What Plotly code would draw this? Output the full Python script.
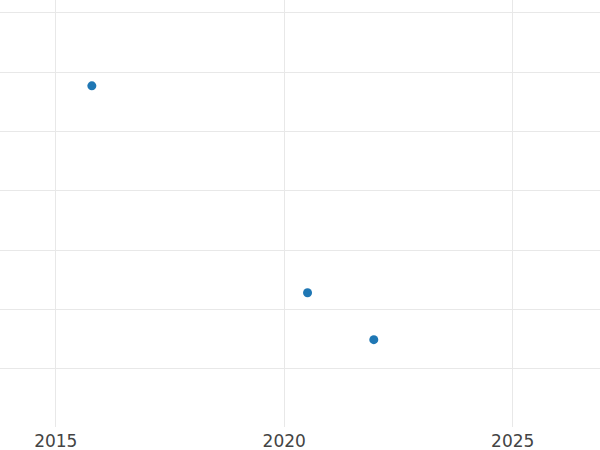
import plotly.graph_objects as go

years = [2015.79, 2020.51, 2021.96]
values = [47.7, 12.8, 4.9]
x_ticks = [2015, 2020, 2025]

fig = go.Figure()
fig.add_trace(
    go.Scatter(
        x=years,
        y=values,
        mode="markers",
        marker=dict(color="#1f77b4", size=9),
        showlegend=False,
    )
)

fig.update_layout(
    width=600,
    height=450,
    margin=dict(l=0, r=0, t=0, b=23),
    paper_bgcolor="white",
    plot_bgcolor="white",
    font=dict(family="DejaVu Sans", size=17, color="#444"),
)
fig.update_xaxes(
    range=[2013.78, 2026.91],
    tickvals=x_ticks,
    ticktext=[str(t) for t in x_ticks],
    ticklabelstandoff=2,
    showgrid=True,
    gridcolor="#e8e8e8",
    gridwidth=1,
    zeroline=False,
    showline=False,
)
fig.update_yaxes(
    range=[-9.83, 62.17],
    dtick=10,
    showticklabels=False,
    showgrid=True,
    gridcolor="#e8e8e8",
    gridwidth=1,
    zeroline=False,
    showline=False,
)

# page body has a default 8px margin; drop it so the figure sits at 0,0
fig.write_html(
    "out.html",
    config={"displayModeBar": False},
    post_script="document.body.style.margin = '0';",
)
